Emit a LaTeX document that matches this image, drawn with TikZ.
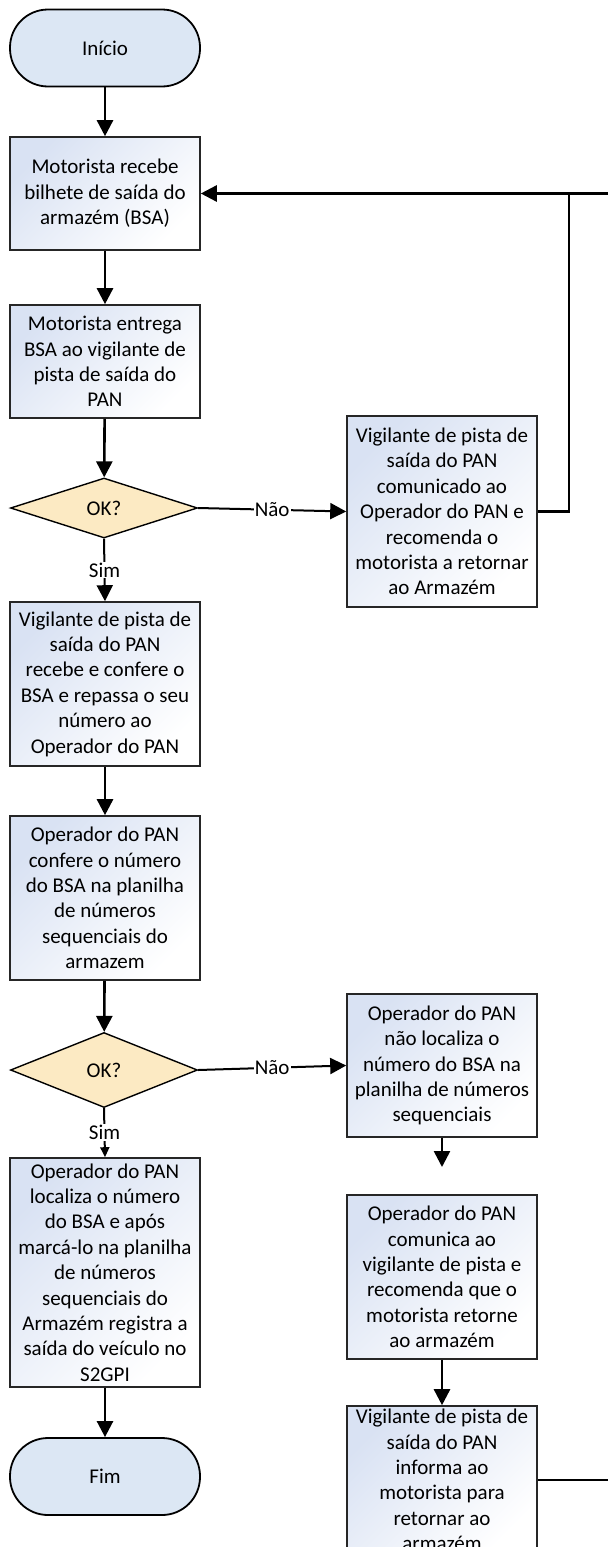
\documentclass[tikz,border=0pt]{standalone}
\usepackage{fontspec}
\setmainfont{Carlito}
\usetikzlibrary{arrows.meta,shapes.geometric}
\definecolor{termfill}{HTML}{DCE7F4}
\definecolor{decfill}{HTML}{FCEAC3}
\definecolor{boxtint}{HTML}{D9E2F3}
\begin{document}
\begin{tikzpicture}[x=1pt,y=-1pt,
  every node/.style={font=\fontsize{21}{25.4}\selectfont, align=center, inner sep=0pt},
  term/.style={draw=black, line width=1.8pt, fill=termfill, rounded corners=38pt, minimum width=190pt, minimum height=77pt},
  proc/.style={draw=black!85, line width=1.6pt, minimum width=190pt, top color=boxtint, bottom color=white, shading angle=45},
  dec/.style={diamond, draw=black, line width=1.4pt, fill=decfill, minimum width=187pt, minimum height=60pt},
  lbl/.style={fill=white, inner sep=1pt},
  arr/.style={line width=2.6pt, -{Triangle[length=16pt,width=16pt]}},
  arrsmall/.style={line width=2pt, -{Triangle[length=10pt,width=9pt]}},
  conn/.style={line width=2.6pt}
]
\useasboundingbox (0,0) rectangle (608,1547);

\node[term] (start) at (105,48) {Início};
\node[proc, minimum height=113pt] (b1) at (105,193.5) {Motorista recebe\\bilhete de saída do\\armazém (BSA)};
\node[proc, minimum height=113pt] (b2) at (105,361.5) {Motorista entrega\\BSA ao vigilante de\\pista de saída do\\PAN};
\node[dec] (d1) at (104,508) {OK?};
\node[proc, minimum height=191pt] (r1) at (442,511.5) {Vigilante de pista de\\saída do PAN\\comunicado ao\\Operador do PAN e\\recomenda o\\motorista a retornar\\ao Armazém};
\node[proc, minimum height=164pt] (b3) at (105,684) {Vigilante de pista de\\saída do PAN\\recebe e confere o\\BSA e repassa o seu\\número ao\\Operador do PAN};
\node[proc, minimum height=164pt] (b4) at (105,898) {Operador do PAN\\confere o número\\do BSA na planilha\\de números\\sequenciais do\\armazem};
\node[dec, minimum height=75pt] (d2) at (104,1070) {OK?};
\node[proc, minimum height=143pt] (r2) at (442,1065.5) {Operador do PAN\\não localiza o\\número do BSA na\\planilha de números\\sequenciais};
\node[proc, minimum height=229pt] (b5) at (105,1272.5) {Operador do PAN\\localiza o número\\do BSA e após\\marcá-lo na planilha\\de números\\sequenciais do\\Armazém registra a\\saída do veículo no\\S2GPI};
\node[term] (fim) at (105,1476.5) {Fim};
\node[proc, minimum height=164pt] (r3) at (442,1277) {Operador do PAN\\comunica ao\\vigilante de pista e\\recomenda que o\\motorista retorne\\ao armazém};
\node[proc, minimum height=148pt] (r4) at (442,1480) {Vigilante de pista de\\saída do PAN\\informa ao\\motorista para\\retornar ao\\armazém};

\coordinate (gap) at (442,1167);
\coordinate (j) at (569,193.5);
\coordinate (edge1) at (608,193.5);
\coordinate (edge2) at (608,1480);

\draw[arr] (start) -- (b1);
\draw[arr] (b1) -- (b2);
\draw[arr] (b2) -- (d1);
\draw[arr, line width=2pt] (d1.east) -- node[lbl]{Não} (r1.west);
\draw[arr, line width=2pt] (d1.south) -- node[lbl]{Sim} (b3.north);
\draw[arr] (b3) -- (b4);
\draw[arr] (b4) -- (d2);
\draw[arr, line width=2pt] (d2.east) -- node[lbl]{Não} (r2.west);
\draw[arrsmall] (d2.south) -- node[lbl]{Sim} (b5.north);
\draw[arr] (b5) -- (fim);
\draw[arr] (r2.south) -- (gap);
\draw[arr] (r3) -- (r4);
\draw[conn] (r1.east) -| (j);
\draw[arr] (edge1) -- (b1.east);
\draw[conn] (r4.east) -- (edge2);
\end{tikzpicture}
\end{document}
